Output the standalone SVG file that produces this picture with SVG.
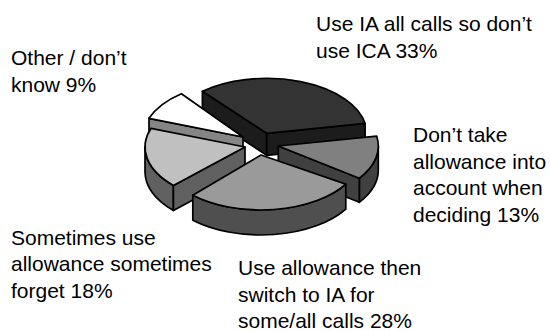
<svg xmlns="http://www.w3.org/2000/svg" width="550" height="331" viewBox="0 0 550 331">
<style>
.f{stroke:#000;stroke-width:1.7;stroke-linejoin:round}
.lbl{font-family:"Liberation Sans",Arial,sans-serif;font-size:21px;fill:#000}
.dT{fill:#333333}.dS{fill:#1c1c1c}
.rT{fill:#808080}.rS{fill:#404040}
.bT{fill:#9a9a9a}.bS{fill:#4f4f4f}
.lT{fill:#c0c0c0}.lS{fill:#606060}
.wT{fill:#ffffff}.wS{fill:#858585}
</style>
<rect width="550" height="331" fill="#fff"/>
<g id="slice-use-ia">
<path class="f dS" d="M266.7,133.3 L202.4,91.2 L202.4,113.2 L266.7,155.3 Z"/>
<path class="f dS" d="M266.7,133.3 L365.1,123.4 L365.1,145.4 L266.7,155.3 Z"/>
<path class="f dT" d="M266.7,133.3 L202.4,91.2 A100,55 0 0 1 365.1,123.4 Z"/>
<text class="lbl" x="316" y="31">Use IA all calls so don’t</text>
<text class="lbl" x="316" y="58">use ICA 33%</text>
</g>
<g id="slice-other">
<path class="f wS" d="M243,137 L149,118.3 L149,141.3 L243,160 Z"/>
<path class="f wT" d="M243,137 L149,118.3 A100,55 0 0 1 181.4,93.7 Z"/>
<text class="lbl" x="11" y="65">Other / don’t</text>
<text class="lbl" x="11" y="92">know 9%</text>
</g>
<g id="slice-dont-take">
<path class="f rS" d="M378.3,146 A100,55 0 0 1 359.3,178.3 L359.3,202.3 A100,55 0 0 0 378.3,170 Z"/>
<path class="f rS" d="M278.3,146 L359.3,178.3 L359.3,202.3 L278.3,170 Z"/>
<path class="f rT" d="M278.3,146 L376.7,136.1 A100,55 0 0 1 359.3,178.3 Z"/>
<text class="lbl" x="413" y="142">Don’t take</text>
<text class="lbl" x="413" y="169">allowance into</text>
<text class="lbl" x="413" y="195">account when</text>
<text class="lbl" x="413" y="222">deciding 13%</text>
</g>
<g id="slice-sometimes">
<path class="f lS" d="M173.4,185.4 A100,55 0 0 1 145,147 L145,172 A100,55 0 0 0 173.4,210.4 Z"/>
<path class="f lS" d="M245,147 L173.4,185.4 L173.4,210.4 L245,172 Z"/>
<path class="f lT" d="M245,147 L173.4,185.4 A100,55 0 0 1 151,128.3 Z"/>
<text class="lbl" x="11" y="245">Sometimes use</text>
<text class="lbl" x="11" y="271">allowance sometimes</text>
<text class="lbl" x="11" y="298">forget 18%</text>
</g>
<g id="slice-switch">
<path class="f bS" d="M345.8,184.1 A100,55 0 0 1 192.8,195.2 L192.8,220.2 A100,55 0 0 0 345.8,209.1 Z"/>
<path class="f bT" d="M261,155 L345.8,184.1 A100,55 0 0 1 192.8,195.2 Z"/>
<text class="lbl" x="238" y="275">Use allowance then</text>
<text class="lbl" x="238" y="302">switch to IA for</text>
<text class="lbl" x="238" y="328">some/all calls 28%</text>
</g>
<g id="connectors"/>
</svg>
